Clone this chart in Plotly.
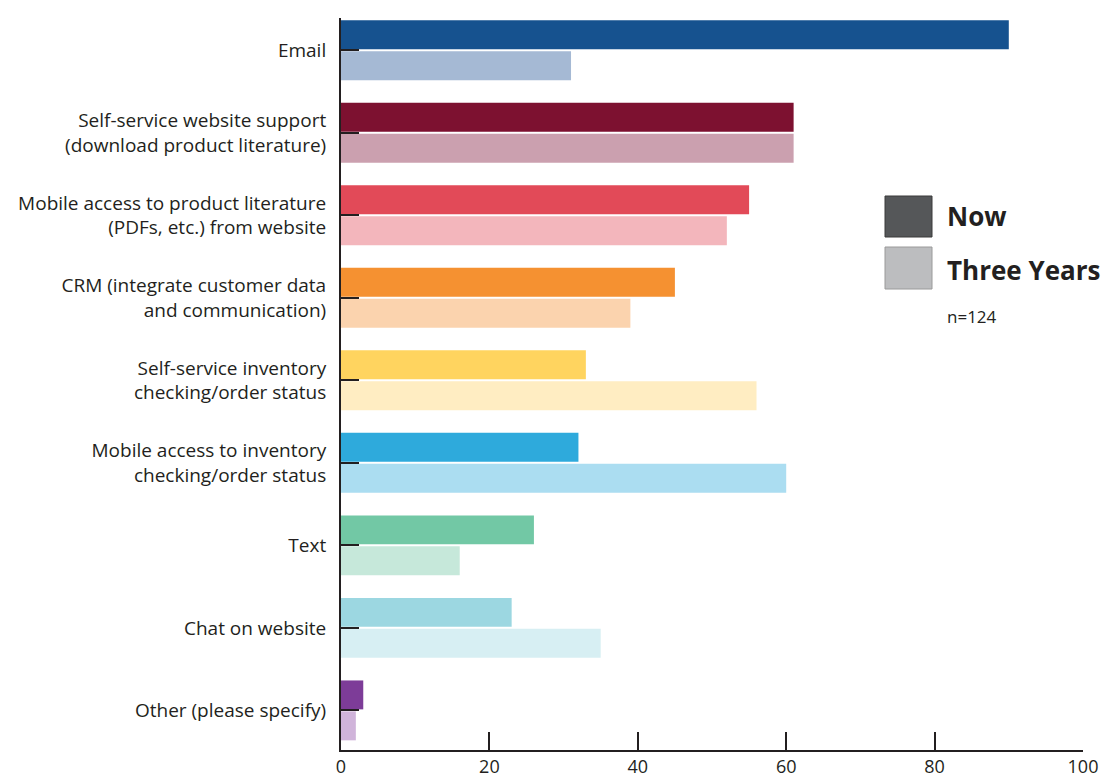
import plotly.graph_objects as go

categories = [
    "Email",
    "Self-service website support<br>(download product literature)",
    "Mobile access to product literature<br>(PDFs, etc.) from website",
    "CRM (integrate customer data<br>and communication)",
    "Self-service inventory<br>checking/order status",
    "Mobile access to inventory<br>checking/order status",
    "Text",
    "Chat on website",
    "Other (please specify)",
]
now_values = [90, 61, 55, 45, 33, 32, 26, 23, 3]
three_years_values = [31, 61, 52, 39, 56, 60, 16, 35, 2]

now_colors = ["#16528F", "#7D1130", "#E24A58", "#F59131", "#FFD45F",
              "#2EAADC", "#72C8A5", "#9CD7E1", "#7D3C98"]
three_colors = ["#A5B9D4", "#CBA0AF", "#F3B6BC", "#FBD3AE", "#FFEDC2",
                "#ABDDF1", "#C6E8DA", "#D7EFF3", "#D0B4DA"]

tick_vals = [0, 20, 40, 60, 80, 100]
text_color = "#231F20"
font_family = "'Open Sans', 'Noto Sans', sans-serif"

fig = go.Figure()
fig.add_trace(go.Bar(y=categories, x=now_values, orientation="h", name="Now",
                     marker=dict(color=now_colors, line=dict(width=0)), showlegend=False))
fig.add_trace(go.Bar(y=categories, x=three_years_values, orientation="h", name="Three Years",
                     marker=dict(color=three_colors, line=dict(width=0)), showlegend=False))

fig.update_layout(
    width=1107, height=778,
    margin=dict(l=341, r=24, t=18, b=28),
    paper_bgcolor="white", plot_bgcolor="white",
    barmode="group", bargap=0.25, bargroupgap=0.065,
    font=dict(family=font_family, color=text_color, size=19),
)
fig.update_xaxes(range=[0, 100], tickvals=tick_vals, ticks="inside", ticklen=18,
                 tickwidth=1.5, tickcolor=text_color, showline=True, linecolor=text_color,
                 linewidth=1.5, showgrid=False, zeroline=False, automargin=False,
                 ticklabelstandoff=0,
                 tickfont=dict(size=18, color=text_color))
fig.update_yaxes(type="category", categoryorder="array", categoryarray=categories,
                 range=[8.48, -0.39], ticks="inside", ticklen=18, tickwidth=1.5,
                 tickcolor=text_color, showline=True, linecolor=text_color, linewidth=2,
                 showgrid=False, zeroline=False, automargin=False, ticklabelstandoff=9,
                 tickfont=dict(size=19, color=text_color))

# custom legend
def px_x(p):
    return (p - 341) / 742

def px_y(p):
    return (750 - p) / 732

fig.add_shape(type="rect", xref="paper", yref="paper",
              x0=px_x(885), x1=px_x(932), y0=px_y(237), y1=px_y(196),
              fillcolor="#555759", line=dict(color="#3a3a3a", width=1))
fig.add_shape(type="rect", xref="paper", yref="paper",
              x0=px_x(885), x1=px_x(932), y0=px_y(289), y1=px_y(247),
              fillcolor="#BCBDBF", line=dict(color="#9a9a9a", width=1))
fig.add_annotation(xref="paper", yref="paper", x=px_x(945), y=px_y(216),
                   xanchor="left", yanchor="middle", showarrow=False,
                   text="<b>Now</b>", font=dict(size=26, color=text_color))
fig.add_annotation(xref="paper", yref="paper", x=px_x(945), y=px_y(270),
                   xanchor="left", yanchor="middle", showarrow=False,
                   text="<b>Three Years</b>", font=dict(size=26, color=text_color))
fig.add_annotation(xref="paper", yref="paper", x=px_x(945), y=px_y(317),
                   xanchor="left", yanchor="middle", showarrow=False,
                   text="n=124", font=dict(size=17, color=text_color))

fig.write_html("out.html")
